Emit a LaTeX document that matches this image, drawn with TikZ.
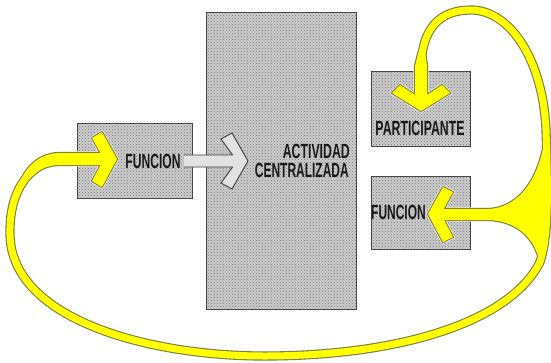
\documentclass[tikz,border=0pt]{standalone}
\usepackage{fontspec}
\setmainfont{Liberation Sans}
\usetikzlibrary{patterns}
\definecolor{boxgray}{RGB}{205,205,205}
\definecolor{dotgray}{RGB}{115,115,115}
\definecolor{boxedge}{RGB}{70,70,70}
\definecolor{yel}{RGB}{255,255,0}
\definecolor{yeledge}{RGB}{125,125,70}
\definecolor{hollowfill}{RGB}{226,226,226}
\definecolor{hollowedge}{RGB}{60,60,60}
\definecolor{txt}{RGB}{25,25,25}
\def\loopline{(60,159) .. controls (25,165) and (9,195) .. (10,235) .. controls (12,320) and (150,356) .. (264,356) .. controls (400,356) and (510,322) .. (540,262) .. controls (549,235) and (548,190) .. (546,130) .. controls (543,60) and (510,10) .. (471,10) .. controls (440,10) and (421,28) .. (421,70)}
\def\leftarr{(19.5,184) .. controls (25,168) and (38,154) .. (58,153) -- (100.6,153) -- (92,138) -- (102,132) -- (117,159) -- (102,187) -- (92,181) -- (100.7,165) -- (58,165) .. controls (42,166) and (30,174) .. (23.5,184) -- cycle}
\def\partarr{(418.5,52) -- (425,52) -- (427,66) -- (427,95) -- (442,85) -- (450,93) -- (421,111) -- (392,93) -- (400,85) -- (415,95) -- (415,66) -- cycle}
\def\rightarr{(443.7,209) -- (453,192) -- (443,187) -- (428,214) -- (443,242) -- (453,237) -- (444,220) -- (488,220) .. controls (515,221) and (533,235) .. (540,262) .. controls (549,235) and (548,190) .. (546,130) .. controls (540,185) and (515,208) .. (488,209) -- cycle}
\begin{document}
\begin{tikzpicture}[x=1pt,y=-1pt,
  box/.style={draw=boxedge, line width=0.9pt, preaction={fill=boxgray}, pattern=crosshatch dots, pattern color=dotgray, inner sep=0pt},
  lbl/.style={inner sep=0pt, text=txt, font=\fontsize{20.5}{21}\selectfont\bfseries},
  halo/.style={draw=white, line width=3.4pt, line join=round},
  yout/.style={draw=yeledge, line width=2.2pt, line join=round},
]
\useasboundingbox (0,0) rectangle (551,362);
\fill[white] (0,0) rectangle (551,362);
% boxes
\node[box, minimum width=150pt, minimum height=297pt] (central) at (281,160.5) {};
\node[box, minimum width=115pt, minimum height=75pt] (funcL) at (134.5,160.5) {};
\node[box, minimum width=99pt, minimum height=75pt] (partic) at (420.5,108.5) {};
\node[box, minimum width=99pt, minimum height=73pt] (funcR) at (420.5,212.5) {};
% hollow arrow
\fill[hollowfill] (184,155) -- (232.6,155) -- (221,139) -- (232,133) -- (248,161) -- (232,189) -- (221,183) -- (232.6,167) -- (184,167) -- cycle;
\draw[hollowedge, line width=0.9pt, line join=round] (184,155) -- (232.6,155) -- (221,139) -- (232,133) -- (248,161) -- (232,189) -- (221,183) -- (232.6,167) -- (184,167);
% yellow shapes: halo, outline, fill
\draw[halo] \leftarr;
\draw[halo] \partarr;
\draw[halo] \rightarr;
\draw[yeledge, line width=9.2pt] \loopline;
\draw[yout] \leftarr;
\draw[yout] \partarr;
\draw[yout] \rightarr;
\draw[yel, line width=7pt] \loopline;
\fill[yel] \leftarr;
\fill[yel] \partarr;
\fill[yel] \rightarr;
% labels
\node[lbl] (tfl) at (153,161) {\scalebox{0.59}[1]{FUNCION}};
\node[lbl, anchor=east] (tact) at (350,151) {\scalebox{0.6}[1]{ACTIVIDAD}};
\node[lbl, anchor=east] (tcen) at (349,170) {\scalebox{0.585}[1]{CENTRALIZADA}};
\node[lbl] (tpar) at (420,128) {\scalebox{0.6}[1]{PARTICIPANTE}};
\node[lbl] (tfr) at (398.5,212.5) {\scalebox{0.585}[1]{FUNCION}};
\end{tikzpicture}
\end{document}
